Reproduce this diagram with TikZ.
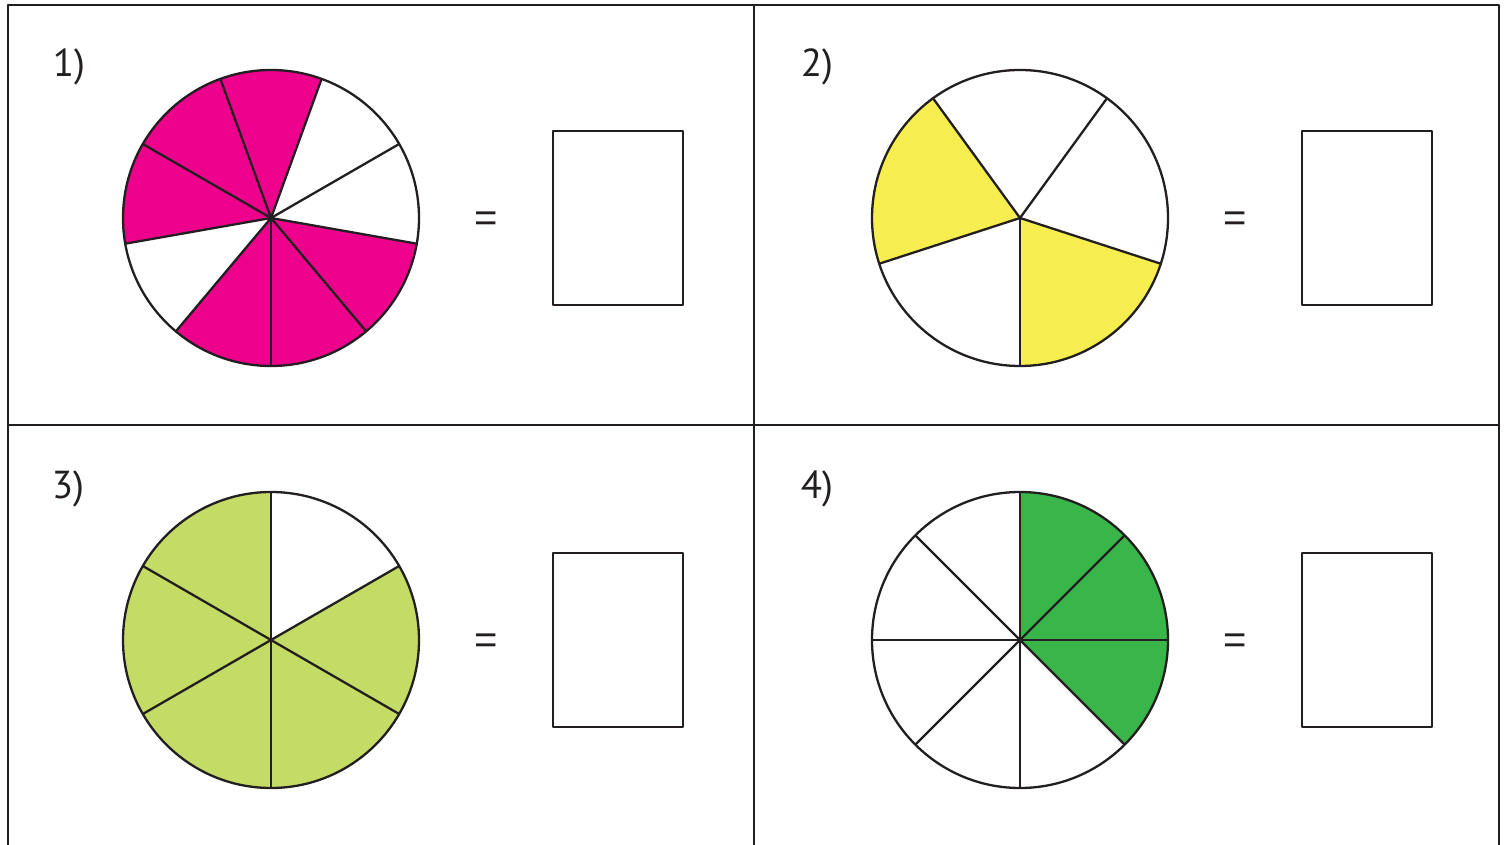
\documentclass[tikz,border=0pt]{standalone}
\usepackage{fontspec}
\setmainfont{PT Sans}
\newfontfamily\eqfont{Liberation Sans}
\definecolor{pinkc}{HTML}{EC008C}
\definecolor{yellowc}{HTML}{F6EE50}
\definecolor{limec}{HTML}{C4DB66}
\definecolor{greenc}{HTML}{39B54A}
\definecolor{inkc}{HTML}{231F20}
\newcommand\mysect[4]{\fill[#4] (#1) -- ++(#2:148) arc[start angle=#2, end angle=#3, radius=148] -- cycle;}
\begin{document}
\begin{tikzpicture}[x=1pt,y=1pt,line join=round,
  gridline/.style={draw=inkc, line width=2.8pt},
  pieline/.style={draw=inkc, line width=2.3pt},
  answerbox/.style={draw=inkc, line width=2.6pt, minimum width=130pt, minimum height=174pt, inner sep=0pt},
  numlabel/.style={font=\fontsize{39}{44}\selectfont, text=inkc, inner sep=0pt},
  eqsign/.style={font=\eqfont\fontsize{40}{48}\selectfont, text=inkc, inner sep=0pt}]
\useasboundingbox (0,0) rectangle (1506,844);
% grid
\draw[gridline] (8,-3) rectangle (1499,839);
\draw[gridline] (754,-3) -- (754,839);
\draw[gridline] (8,419) -- (1499,419);
% centres
\coordinate (c1) at (271,626);
\coordinate (c2) at (1020,626);
\coordinate (c3) at (271,204);
\coordinate (c4) at (1020,204);
% pie 1: nine sectors
\foreach \a/\col in {70/pinkc,110/pinkc,150/pinkc,190/white,230/pinkc,270/pinkc,310/pinkc,350/white,30/white}
  {\mysect{c1}{\a}{\a+40}{\col}}
\foreach \a in {30,70,...,350} {\draw[pieline] (c1) -- ++(\a:148);}
\draw[pieline] (c1) circle[radius=148];
% pie 2: five sectors
\foreach \a/\col in {54/white,126/yellowc,198/white,270/yellowc,342/white}
  {\mysect{c2}{\a}{\a+72}{\col}}
\foreach \a in {54,126,198,270,342} {\draw[pieline] (c2) -- ++(\a:148);}
\draw[pieline] (c2) circle[radius=148];
% pie 3: six sectors
\foreach \a/\col in {30/white,90/limec,150/limec,210/limec,270/limec,330/limec}
  {\mysect{c3}{\a}{\a+60}{\col}}
\foreach \a in {30,90,...,330} {\draw[pieline] (c3) -- ++(\a:148);}
\draw[pieline] (c3) circle[radius=148];
% pie 4: eight sectors
\foreach \a/\col in {0/greenc,45/greenc,90/white,135/white,180/white,225/white,270/white,315/greenc}
  {\mysect{c4}{\a}{\a+45}{\col}}
\foreach \a in {0,45,...,315} {\draw[pieline] (c4) -- ++(\a:148);}
\draw[pieline] (c4) circle[radius=148];
% labels
\node[numlabel] (l1) at (69,777) {1)};
\node[numlabel] (l2) at (817,777) {2)};
\node[numlabel] (l3) at (68,355) {3)};
\node[numlabel] (l4) at (817,355) {4)};
% equals
\node[eqsign] (e1) at (486,622) {=};
\node[eqsign] (e2) at (1235,622) {=};
\node[eqsign] (e3) at (486,200) {=};
\node[eqsign] (e4) at (1235,200) {=};
% answer boxes
\node[answerbox] (b1) at (618,626) {};
\node[answerbox] (b2) at (1367,626) {};
\node[answerbox] (b3) at (618,204) {};
\node[answerbox] (b4) at (1367,204) {};
\end{tikzpicture}
\end{document}
